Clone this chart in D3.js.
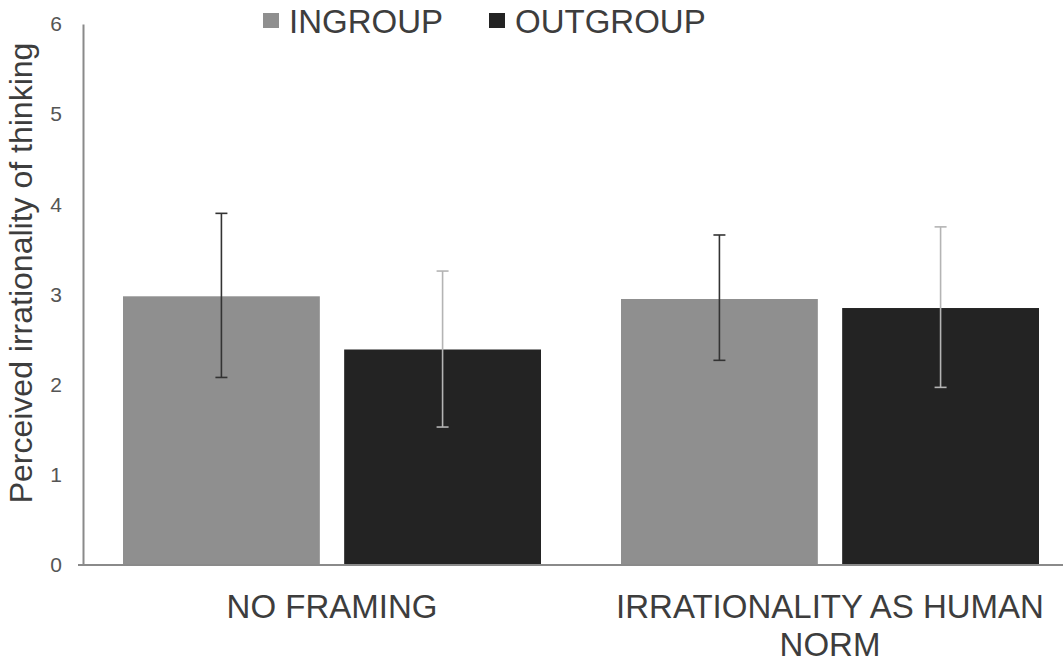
<!DOCTYPE html>
<html>
<head>
<meta charset="utf-8">
<script src="https://cdn.jsdelivr.net/npm/d3@7"></script>
<style>
  body { margin: 0; background: #fff; }
  svg { display: block; font-family: "Liberation Sans", Arial, sans-serif; }
</style>
</head>
<body>
<script>
// data
const categories = ["NO FRAMING", "IRRATIONALITY AS HUMAN NORM"];
const categoryLines = [["NO FRAMING"], ["IRRATIONALITY AS HUMAN", "NORM"]];
const series = ["INGROUP", "OUTGROUP"];
const ingroupMeans = [2.98, 2.95];
const outgroupMeans = [2.39, 2.85];
const ingroupLow = [2.08, 2.27];
const ingroupHigh = [3.90, 3.66];
const outgroupLow = [1.53, 1.97];
const outgroupHigh = [3.26, 3.75];
const yTicks = [0, 1, 2, 3, 4, 5, 6];

const width = 1063, height = 667;
const colors = { INGROUP: "#8f8f8f", OUTGROUP: "#232323" };
const errColors = { INGROUP: "#333", OUTGROUP: "#b4b4b4" };

const rows = [];
categories.forEach((c, i) => {
  rows.push({ cat: c, s: "INGROUP", v: ingroupMeans[i], lo: ingroupLow[i], hi: ingroupHigh[i] });
  rows.push({ cat: c, s: "OUTGROUP", v: outgroupMeans[i], lo: outgroupLow[i], hi: outgroupHigh[i] });
});

const svg = d3.select("body").append("svg")
  .attr("width", width)
  .attr("height", height);

const x0 = d3.scaleBand().domain(categories).range([83, 1079]);
const x1 = d3.scaleBand().domain(series).range([40, 458]).paddingInner(0.11);
const y = d3.scaleLinear().domain([0, 6]).range([565, 24]);

// bars
svg.append("g").selectAll("rect")
  .data(rows)
  .enter()
  .append("rect")
  .attr("x", d => x0(d.cat) + x1(d.s))
  .attr("y", d => y(d.v))
  .attr("width", x1.bandwidth())
  .attr("height", d => y(0) - y(d.v))
  .attr("fill", d => colors[d.s]);

// error bars
const err = svg.append("g").selectAll("g")
  .data(rows)
  .enter()
  .append("g")
  .attr("stroke", d => errColors[d.s])
  .attr("stroke-width", 1.6);
const cx = d => x0(d.cat) + x1(d.s) + x1.bandwidth() / 2;
err.append("line")
  .attr("x1", cx).attr("x2", cx)
  .attr("y1", d => y(d.lo)).attr("y2", d => y(d.hi));
err.append("line")
  .attr("x1", d => cx(d) - 6).attr("x2", d => cx(d) + 6)
  .attr("y1", d => y(d.lo)).attr("y2", d => y(d.lo));
err.append("line")
  .attr("x1", d => cx(d) - 6).attr("x2", d => cx(d) + 6)
  .attr("y1", d => y(d.hi)).attr("y2", d => y(d.hi));

// y axis
const yAxis = svg.append("g")
  .attr("transform", `translate(83,0)`)
  .call(d3.axisLeft(y).tickValues(yTicks).tickSize(0).tickPadding(21).tickFormat(d3.format("d")));
yAxis.select(".domain").attr("stroke", "#8a8a8a").attr("stroke-width", 2);
yAxis.selectAll("text")
  .attr("font-size", 21)
  .attr("fill", "#555")
  .attr("font-family", "Liberation Sans, Arial, sans-serif");

// baseline
svg.append("line")
  .attr("x1", 78).attr("x2", width)
  .attr("y1", y(0)).attr("y2", y(0))
  .attr("stroke", "#8a8a8a")
  .attr("stroke-width", 2);

// category labels
const catG = svg.append("g").selectAll("text")
  .data(categories)
  .enter()
  .append("text")
  .attr("x", d => x0(d) + x0.bandwidth() / 2)
  .attr("y", 618)
  .attr("text-anchor", "middle")
  .attr("font-size", 33)
  .attr("fill", "#3d3d3d");
catG.each(function(d, i) {
  const t = d3.select(this);
  categoryLines[i].forEach((ln, j) => {
    t.append("tspan")
      .attr("x", x0(d) + x0.bandwidth() / 2)
      .attr("dy", j === 0 ? 0 : 38)
      .text(ln);
  });
});

// y title
svg.append("text")
  .attr("transform", "translate(32,273) rotate(-90)")
  .attr("text-anchor", "middle")
  .attr("font-size", 32)
  .attr("fill", "#3d3d3d")
  .text("Perceived irrationality of thinking");

// legend
const legendX = [263, 489];
const legend = svg.append("g").selectAll("g")
  .data(series)
  .enter()
  .append("g")
  .attr("transform", (d, i) => `translate(${legendX[i]},0)`);
legend.append("rect")
  .attr("x", 0).attr("y", 13)
  .attr("width", 16).attr("height", 15)
  .attr("fill", d => colors[d]);
legend.append("text")
  .attr("x", 26).attr("y", 33)
  .attr("font-size", 33)
  .attr("fill", "#3d3d3d")
  .text(d => d);
</script>
</body>
</html>
